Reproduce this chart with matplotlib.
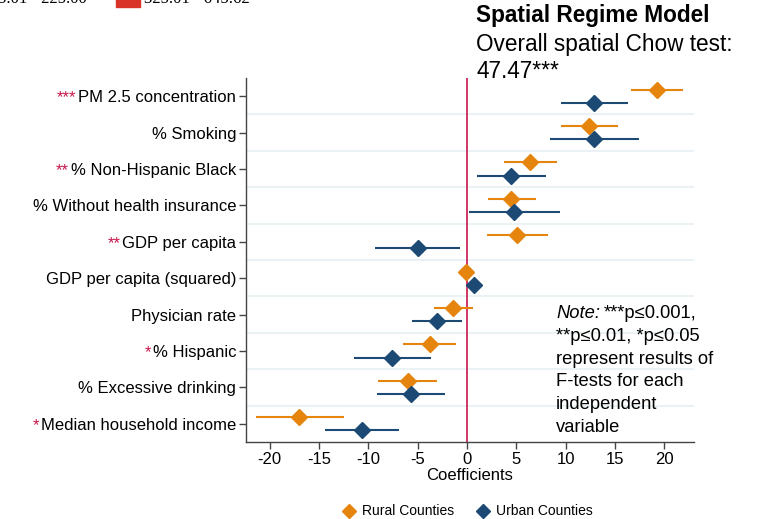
import matplotlib
matplotlib.use('Agg')
import matplotlib.pyplot as plt
import numpy as np

plt.rcParams['font.family'] = ['Liberation Sans', 'DejaVu Sans']

variables = ['PM 2.5 concentration', '% Smoking', '% Non-Hispanic Black',
             '% Without health insurance', 'GDP per capita',
             'GDP per capita (squared)', 'Physician rate', '% Hispanic',
             '% Excessive drinking', 'Median household income']
stars = ['***', '', '**', '', '**', '', '', '*', '', '*']

rural_coef = [19.2, 12.35, 6.4, 4.5, 5.1, -0.1, -1.4, -3.8, -6.0, -17.0]
rural_lo = [16.6, 9.5, 3.7, 2.1, 2.0, -0.1, -3.4, -6.5, -9.0, -21.4]
rural_hi = [21.9, 15.3, 9.1, 7.0, 8.2, -0.1, 0.6, -1.15, -3.0, -12.5]

urban_coef = [12.9, 12.9, 4.5, 4.8, -5.0, 0.68, -3.0, -7.6, -5.65, -10.6]
urban_lo = [9.5, 8.4, 1.05, 0.2, -9.3, 0.68, -5.55, -11.5, -9.1, -14.35]
urban_hi = [16.3, 17.4, 7.95, 9.4, -0.7, 0.68, -0.5, -3.7, -2.2, -6.9]

orange = '#e6850e'
blue = '#1c4a74'
red = '#c8174a'

fig = plt.figure(figsize=(7.61, 5.19), dpi=100)
ax = fig.add_axes([0.3233, 0.1484, 0.5887, 0.7013])

pos = np.arange(len(variables))
off = 0.18

for coef, lo, hi, col, shift in [(rural_coef, rural_lo, rural_hi, orange, -off),
                                  (urban_coef, urban_lo, urban_hi, blue, off)]:
    y = pos + shift
    ax.hlines(y, lo, hi, color=col, lw=1.5, zorder=3)
    ax.plot(coef, y, 'D', color=col, ms=8, mec=col, zorder=4, ls='none')

ax.axvline(0, color=red, lw=1.2, zorder=2)

# gridlines between the variables
for g in np.arange(0.5, len(variables) - 1, 1):
    ax.axhline(g, color='#e8f0f3', lw=1.2, zorder=1)

ax.set_ylim(len(variables) - 0.5, -0.5)
ax.set_xlim(-22.4, 23.0)
ax.set_yticks(pos)
ax.set_yticklabels(variables, fontsize=12)
ax.set_xticks(np.arange(-20, 21, 5))
ax.set_xticklabels([str(v) for v in range(-20, 21, 5)], fontsize=12)
ax.set_xlabel('Coefficients', fontsize=12, labelpad=1)

for side in ['top', 'right']:
    ax.spines[side].set_visible(False)
for side in ['left', 'bottom']:
    ax.spines[side].set_color('#444444')
    ax.spines[side].set_linewidth(1.0)
ax.tick_params(axis='both', length=5, width=1, color='#444444', pad=2)

# significance stars in front of the tick labels
fig.canvas.draw()
renderer = fig.canvas.get_renderer()
inv = fig.transFigure.inverted()
for lab, s in zip(ax.get_yticklabels(), stars):
    if not s:
        continue
    bb = lab.get_window_extent(renderer)
    x0, y0 = inv.transform((bb.x0 - 2, (bb.y0 + bb.y1) / 2))
    fig.text(x0, y0, s, color=red, fontsize=12, ha='right', va='center')

# title block
fig.text(0.626, 0.970, 'Spatial Regime Model', fontsize=16.3, weight='bold',
         ha='left', va='center')
fig.text(0.626, 0.915, 'Overall spatial Chow test:', fontsize=16.3,
         ha='left', va='center')
fig.text(0.626, 0.863, '47.47***', fontsize=16.3, ha='left', va='center')

# note
note = ['***p\u22640.001,', '**p\u22640.01, *p\u22640.05', 'represent results of',
        'F-tests for each', 'independent', 'variable']
ny = 1 - 314 / 519
for i, line in enumerate(note):
    yy = ny - i * 22.6 / 519
    if i == 0:
        t = fig.text(556 / 761, yy, 'Note:', fontsize=13.2, style='italic',
                     ha='left', va='center')
        bb = t.get_window_extent(renderer)
        fig.text((bb.x1 + 4) / 761, yy, line, fontsize=13.2, ha='left', va='center')
    else:
        fig.text(556 / 761, yy, line, fontsize=13.2, ha='left', va='center')

# legend
leg_y = 1 - 511 / 519
fig.lines.append(plt.Line2D([349 / 761], [leg_y], marker='D', color=orange,
                            ms=7, transform=fig.transFigure))
fig.text(362 / 761, leg_y, 'Rural Counties', fontsize=10, ha='left', va='center')
fig.lines.append(plt.Line2D([483 / 761], [leg_y], marker='D', color=blue,
                            ms=7, transform=fig.transFigure))
fig.text(496 / 761, leg_y, 'Urban Counties', fontsize=10, ha='left', va='center')

# leftover map legend strip along the top edge
fig.patches.append(plt.Rectangle((116 / 761, 1 - 7 / 519), 24 / 761, 10 / 519,
                                 color='#d93328', transform=fig.transFigure))
fig.text(-2 / 761, 1 + 1 / 519, '5.01 - 225.00', family='Liberation Serif',
         fontsize=12, ha='left', va='center')
fig.text(144 / 761, 1 + 1 / 519, '325.01 - 645.62', family='Liberation Serif',
         fontsize=12, ha='left', va='center')

fig.savefig('out.png', dpi=100)
